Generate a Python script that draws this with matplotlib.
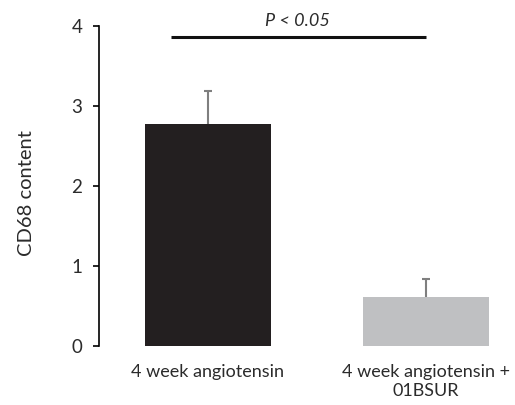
import matplotlib
matplotlib.use("Agg")
import matplotlib.pyplot as plt
import numpy as np

categories = ["4 week angiotensin", "4 week angiotensin +\n01BSUR"]
values = [2.77, 0.61]
errors = [0.42, 0.23]
bar_colors = ["#231f20", "#bfc0c2"]
sig_text = "P < 0.05"
sig_level = 3.86

plt.rcParams['font.family'] = ['Lato', 'DejaVu Sans']
txt = "#2b2b2b"

fig = plt.figure(figsize=(5.15, 4.05), dpi=100)
ax = fig.add_axes([99/515, (405-346)/405, (513-99)/515, (346-26)/405 * 4.3/4])
x = list(range(len(categories)))
ax.bar(x, values, width=0.58, color=bar_colors, zorder=2)
eb = ax.errorbar(x, values, yerr=[[0]*len(errors), errors], fmt='none',
                 ecolor="#7f7f7f", elinewidth=1.5, capsize=3, capthick=1.5, zorder=1)
for cl in eb[1]:
    if np.allclose(cl.get_ydata(), values):
        cl.set_visible(False)
ax.set_xlim(-0.5, 1.4)
ax.set_ylim(0, 4.3)
ax.set_yticks([0, 1, 2, 3, 4])
ax.set_xticks(x)
ax.set_xticklabels(categories, fontsize=13, color=txt, linespacing=1.25)
ax.tick_params(axis='x', length=0, pad=13)
ax.tick_params(axis='y', direction='out', length=4, width=1.2, labelsize=13.5,
               labelcolor=txt, pad=8)
for s in ['top', 'right', 'bottom']:
    ax.spines[s].set_visible(False)
ax.spines['left'].set_linewidth(1.2)
ax.spines['left'].set_bounds(0, 4)
ax.set_ylabel("CD68 content", fontsize=14.5, color=txt)
ax.yaxis.set_label_coords(-0.155, 0.445)
ax.plot([-0.17, 1.0], [sig_level, sig_level], color="#111111", lw=2.2,
        solid_capstyle='butt', clip_on=False)
ax.text(0.41, sig_level + 0.1, sig_text, ha='center', va='bottom',
        fontsize=13, style='italic', color=txt)
fig.savefig("out.png", dpi=100)
